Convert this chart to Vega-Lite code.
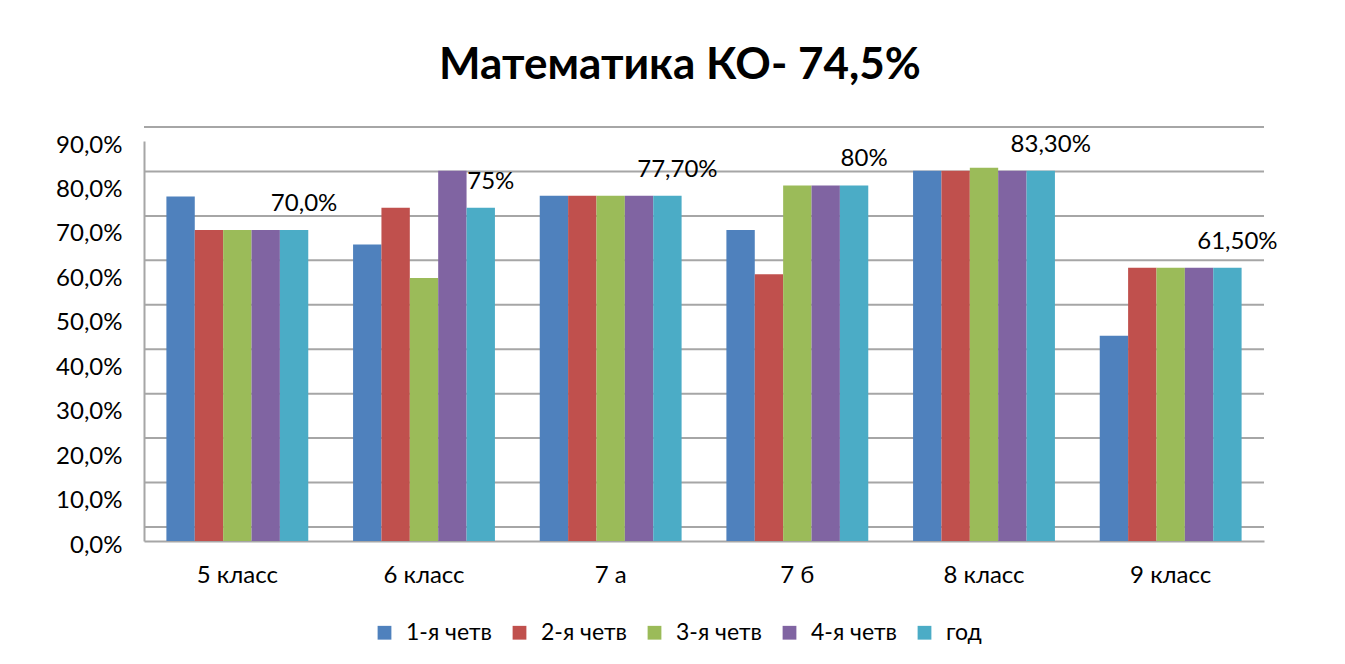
{
  "$schema": "https://vega.github.io/schema/vega-lite/v6.json",
  "width": 1120,
  "height": 400,
  "autosize": {"type": "none"},
  "padding": {"left": 144, "top": 141, "right": 81, "bottom": 123},
  "background": "white",
  "title": {
    "text": "Математика КО- 74,5%",
    "font": "Lato",
    "fontSize": 44,
    "fontWeight": "bold",
    "color": "#000000",
    "anchor": "middle",
    "dx": -24,
    "offset": 38
  },
  "config": {
    "view": {"stroke": null},
    "font": "Lato",
    "axis": {"labelFont": "Lato", "labelColor": "#000000"}
  },
  "layer": [
    {
      "data": {"values": [{"t": 0}, {"t": 0.1}, {"t": 0.2}, {"t": 0.3}, {"t": 0.4}, {"t": 0.5}, {"t": 0.6}, {"t": 0.7}, {"t": 0.8}, {"t": 0.9}]},
      "mark": {"type": "rule", "color": "#a6a6a6", "strokeWidth": 2, "yOffset": -14},
      "encoding": {
        "y": {"field": "t", "type": "quantitative", "scale": {"domain": [0, 0.9]}}
      }
    },
    {
      "data": {"name": "main", "values": [
        {"cls": "5 класс", "s": "1-я четв", "v": 0.775},
        {"cls": "5 класс", "s": "2-я четв", "v": 0.70},
        {"cls": "5 класс", "s": "3-я четв", "v": 0.70},
        {"cls": "5 класс", "s": "4-я четв", "v": 0.70},
        {"cls": "5 класс", "s": "год", "v": 0.70, "label": "70,0%"},
        {"cls": "6 класс", "s": "1-я четв", "v": 0.667},
        {"cls": "6 класс", "s": "2-я четв", "v": 0.75},
        {"cls": "6 класс", "s": "3-я четв", "v": 0.592},
        {"cls": "6 класс", "s": "4-я четв", "v": 0.833},
        {"cls": "6 класс", "s": "год", "v": 0.75, "label": "75%"},
        {"cls": "7 а", "s": "1-я четв", "v": 0.777},
        {"cls": "7 а", "s": "2-я четв", "v": 0.777},
        {"cls": "7 а", "s": "3-я четв", "v": 0.777},
        {"cls": "7 а", "s": "4-я четв", "v": 0.777},
        {"cls": "7 а", "s": "год", "v": 0.777, "label": "77,70%"},
        {"cls": "7 б", "s": "1-я четв", "v": 0.70},
        {"cls": "7 б", "s": "2-я четв", "v": 0.60},
        {"cls": "7 б", "s": "3-я четв", "v": 0.80},
        {"cls": "7 б", "s": "4-я четв", "v": 0.80},
        {"cls": "7 б", "s": "год", "v": 0.80, "label": "80%"},
        {"cls": "8 класс", "s": "1-я четв", "v": 0.833},
        {"cls": "8 класс", "s": "2-я четв", "v": 0.833},
        {"cls": "8 класс", "s": "3-я четв", "v": 0.84},
        {"cls": "8 класс", "s": "4-я четв", "v": 0.833},
        {"cls": "8 класс", "s": "год", "v": 0.833, "label": "83,30%"},
        {"cls": "9 класс", "s": "1-я четв", "v": 0.462},
        {"cls": "9 класс", "s": "2-я четв", "v": 0.615},
        {"cls": "9 класс", "s": "3-я четв", "v": 0.615},
        {"cls": "9 класс", "s": "4-я четв", "v": 0.615},
        {"cls": "9 класс", "s": "год", "v": 0.615, "label": "61,50%"}
      ]},
      "layer": [
        {
          "mark": {"type": "bar", "stroke": null},
          "encoding": {
            "x": {
              "field": "cls", "type": "nominal", "sort": null,
              "scale": {"paddingInner": 0.24, "paddingOuter": 0.12},
              "axis": {
                "title": null, "labelAngle": 0, "labelFontSize": 24, "ticks": false,
                "labelPadding": 22, "domainColor": "#a6a6a6", "domainWidth": 2, "grid": false
              }
            },
            "xOffset": {"field": "s", "type": "nominal", "sort": ["1-я четв", "2-я четв", "3-я четв", "4-я четв", "год"]},
            "y": {
              "field": "v", "type": "quantitative",
              "scale": {"domain": [0, 0.9]},
              "axis": {
                "title": null, "values": [0, 0.1, 0.2, 0.3, 0.4, 0.5, 0.6, 0.7, 0.8, 0.9],
                "labelExpr": "replace(format(datum.value, '.1%'), '.', ',')",
                "labelFontSize": 24, "ticks": false, "labelPadding": 22, "grid": false,
                "domainColor": "#a6a6a6", "domainWidth": 2, "labelOffset": 4
              }
            },
            "color": {
              "field": "s", "type": "nominal",
              "scale": {
                "domain": ["1-я четв", "2-я четв", "3-я четв", "4-я четв", "год"],
                "range": ["#4f81bd", "#c0504d", "#9bbb59", "#8064a2", "#4bacc6"]
              },
              "legend": {
                "title": null, "orient": "none", "legendX": 229, "legendY": 480,
                "direction": "horizontal",
                "symbolType": "square", "symbolSize": 190, "symbolStrokeWidth": 0,
                "labelFontSize": 23, "labelFont": "Lato", "labelColor": "#000000",
                "labelOffset": 10, "columnPadding": 16, "symbolOffset": 0
              }
            }
          }
        },
        {
          "transform": [{"filter": "datum.label != null"}],
          "mark": {"type": "text", "fontSize": 24, "font": "Lato", "color": "#000000", "baseline": "bottom", "dx": 10, "dy": -14},
          "encoding": {
            "x": {"field": "cls", "type": "nominal", "sort": null},
            "xOffset": {"field": "s", "type": "nominal", "sort": ["1-я четв", "2-я четв", "3-я четв", "4-я четв", "год"]},
            "y": {"field": "v", "type": "quantitative"},
            "text": {"field": "label"}
          }
        }
      ]
    }
  ]
}
